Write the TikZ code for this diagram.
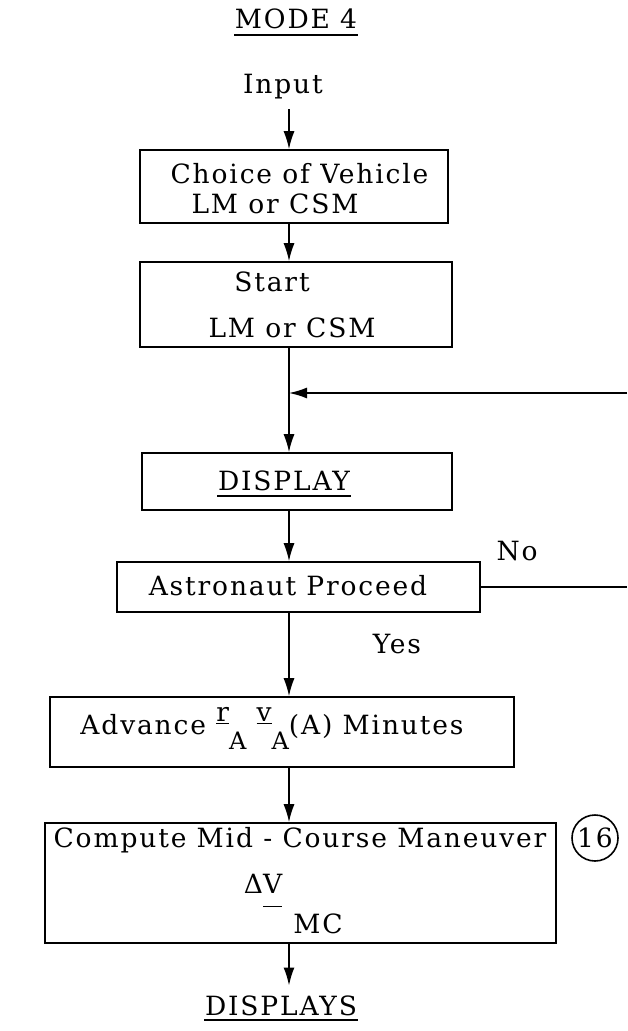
\documentclass[tikz,border=0pt]{standalone}
\usepackage{fontspec}
\setmainfont{DejaVu Serif}[LetterSpace=7]
\usetikzlibrary{arrows.meta}
\newcommand\tf{\fontsize{26.5}{30}\selectfont}
\newcommand\smf{\fontsize{24}{28}\selectfont}
\newcommand\myul[2][3pt]{\leavevmode\setbox0\hbox{#2}\rlap{\rule[-#1]{\wd0}{1.3pt}}\box0}
\begin{document}
\begin{tikzpicture}[x=1pt,y=-1pt,line width=1.6pt,
  box/.style={draw,rectangle,inner sep=0pt},
  txt/.style={anchor=base,inner sep=0pt,font=\tf},
  arr/.style={-{Latex[length=18pt,width=11pt]}}]
\useasboundingbox (0,0) rectangle (627,1031);
\coordinate (col) at (289,0);
% titles
\node[txt] (mode) at (296,28) {MODE 4};
\draw ([yshift=-7pt]mode.base west) -- ([yshift=-7pt]mode.base east);
\node[txt] (input) at (283,93) {Input};
% boxes
\node[box,minimum width=308pt,minimum height=73pt] (b1) at (294,186.5) {};
\node[txt] (b1a) at (299.5,183) {Choice of Vehicle};
\node[txt] (b1b) at (275,213) {LM or CSM};
\node[box,minimum width=312pt,minimum height=85pt] (b2) at (296,304.5) {};
\node[txt] (b2a) at (272,291) {Start};
\node[txt] (b2b) at (292,337) {LM or CSM};
\node[box,minimum width=310pt,minimum height=57pt] (disp) at (297,481.5) {};
\node[txt] (dispt) at (284,490) {DISPLAY};
\draw ([yshift=-6pt]dispt.base west) -- ([yshift=-6pt]dispt.base east);
\node[box,minimum width=363pt,minimum height=50pt] (astro) at (298.5,587) {};
\node[txt] (astrot) at (288,595) {Astronaut Proceed};
\node[txt] (no) at (517,560) {No};
\node[txt] (yes) at (397,653) {Yes};
\node[box,minimum width=464pt,minimum height=70pt] (adv) at (282,732) {};
\node[txt] (advt) at (272,734) {Advance \raisebox{13pt}{\myul{r}}\raisebox{-15pt}{\smf A}
  \raisebox{13pt}{\myul{v}}\raisebox{-15pt}{\smf A}(A) Minutes};
\node[box,minimum width=511pt,minimum height=120pt] (comp) at (300.5,883) {};
\node[txt] (compt) at (300,847) {Compute Mid - Course Maneuver};
\node[txt] (dv) at (263,893) {Δ\myul[14pt]{V}};
\node[txt] (mc) at (318,933) {MC};
\node[draw,circle,minimum size=46pt,inner sep=0pt,font=\tf] (c16) at (595,838) {16};
\node[txt] (disps) at (281,1015) {DISPLAYS};
\draw ([yshift=-5pt]disps.base west) -- ([yshift=-5pt]disps.base east);
% connectors
\draw[arr] ([yshift=-10pt]input.south -| col) -- (b1.north -| col);
\draw[arr] (b1.south -| col) -- (b2.north -| col);
\draw[arr] (b2.south -| col) -- (disp.north -| col);
\coordinate (loopR) at (627,393);
\draw[arr] (loopR) -- (loopR -| col);
\draw[arr] (disp.south -| col) -- (astro.north -| col);
\coordinate (noR) at (627,587);
\draw (astro.east) -- (noR);
\draw[arr] (astro.south -| col) -- (adv.north -| col);
\draw[arr] (adv.south -| col) -- (comp.north -| col);
\draw[arr] (comp.south -| col) -- ([yshift=9pt]disps.north -| col);
\end{tikzpicture}
\end{document}
